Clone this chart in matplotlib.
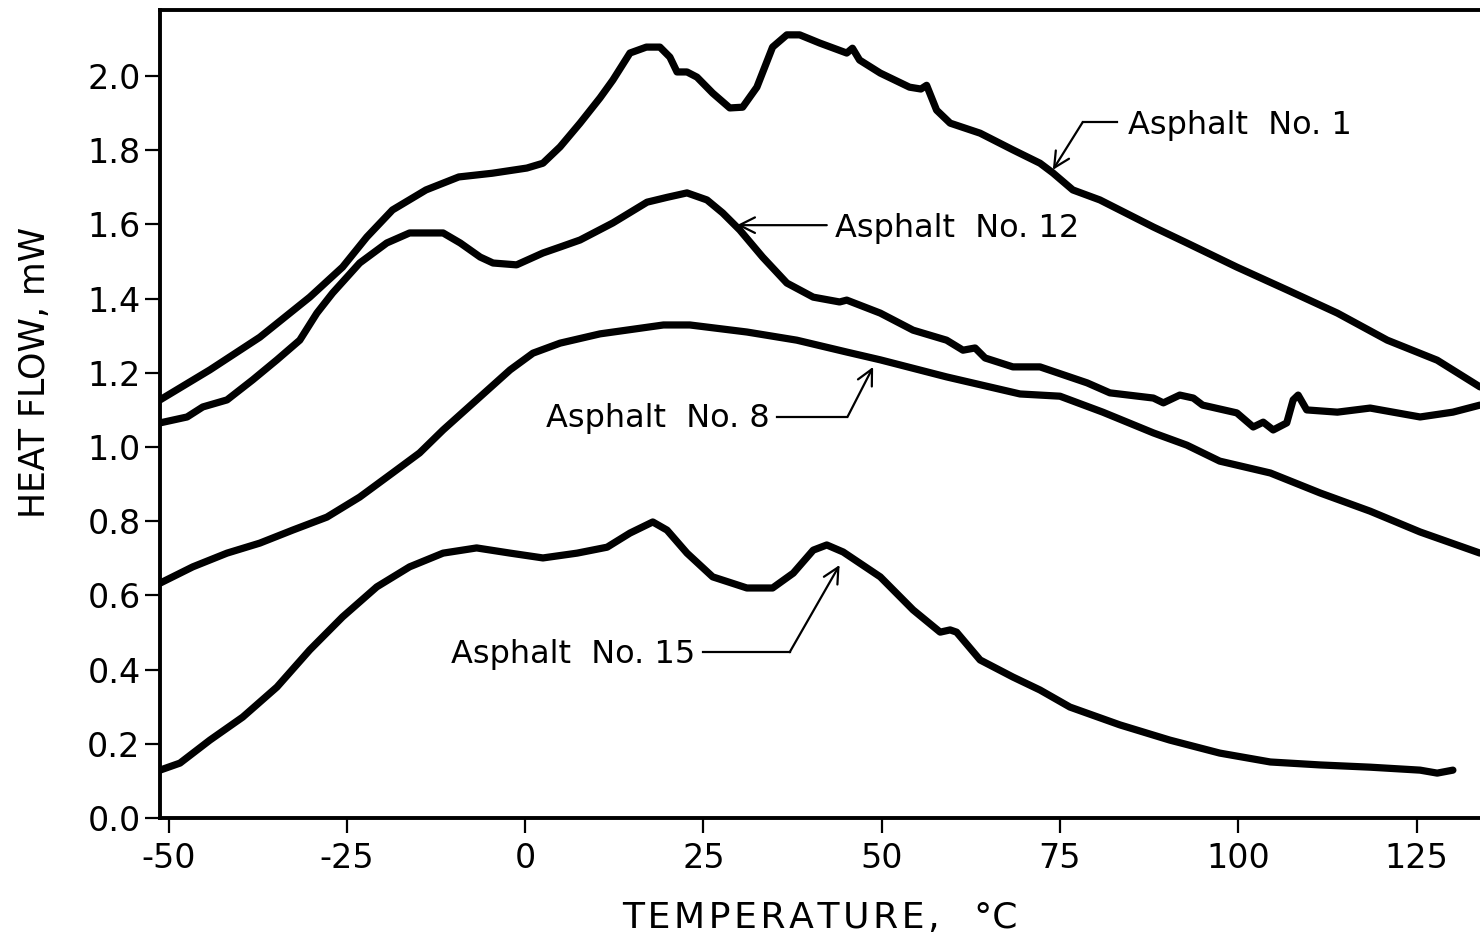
import numpy as np
import matplotlib
matplotlib.use("Agg")
import matplotlib.pyplot as plt

# DSC heat flow traces
temp_1 = [-51.2, -44.2, -37.2, -30.2, -25.6, -22.2, -18.6, -13.9, -9.3, -4.6, 0.25, 2.5, 4.9, 7.7,
          10.5, 12.3, 14.7, 17.0, 18.9, 20.3, 21.3, 22.7, 24.1, 26.3, 28.7, 30.5, 32.5, 34.7, 36.7,
          38.5, 41.3, 45.1, 45.9, 46.9, 49.8, 53.9, 55.5, 56.3, 57.7, 59.6, 63.8, 68.4, 72.2, 74.0,
          76.8, 80.6, 88.1, 92.8, 99.8, 106.9, 113.9, 120.9, 127.9, 133.9]
flow_1 = [1.127, 1.208, 1.296, 1.404, 1.485, 1.566, 1.639, 1.693, 1.728, 1.738, 1.752, 1.765, 1.809, 1.873,
          1.941, 1.989, 2.062, 2.078, 2.078, 2.051, 2.011, 2.011, 1.997, 1.954, 1.914, 1.916, 1.970, 2.078, 2.111,
          2.111, 2.089, 2.062, 2.075, 2.043, 2.008, 1.970, 1.965, 1.975, 1.908, 1.873, 1.846, 1.801, 1.765, 1.739,
          1.693, 1.666, 1.593, 1.550, 1.485, 1.423, 1.361, 1.288, 1.234, 1.162]

temp_12 = [-51.2, -47.4, -45.2, -41.8, -38.2, -34.8, -31.6, -29.2, -27.0, -23.2, -19.4, -16.2, -11.5, -9.1,
           -6.3, -4.5, -1.2, 2.5, 4.9, 7.7, 12.3, 17.1, 19.9, 22.7, 25.5, 27.7, 30.1, 33.3, 36.7, 40.4,
           44.1, 45.1, 49.8, 54.4, 59.1, 61.4, 63.1, 64.5, 68.4, 72.2, 78.8, 82.0, 88.1, 89.5, 91.8, 93.7,
           95.0, 99.8, 102.1, 103.5, 104.9, 106.8, 107.7, 108.4, 109.6, 113.9, 118.5, 121.7, 125.5, 130.1, 133.9]
flow_12 = [1.065, 1.081, 1.108, 1.127, 1.181, 1.235, 1.288, 1.361, 1.415, 1.496, 1.550, 1.577, 1.577, 1.550,
           1.512, 1.496, 1.491, 1.523, 1.539, 1.558, 1.604, 1.660, 1.673, 1.685, 1.666, 1.631, 1.585, 1.512, 1.442, 1.404,
           1.391, 1.396, 1.361, 1.315, 1.288, 1.261, 1.267, 1.240, 1.216, 1.216, 1.173, 1.146, 1.132, 1.119, 1.140, 1.132,
           1.113, 1.092, 1.054, 1.067, 1.046, 1.065, 1.127, 1.140, 1.100, 1.094, 1.105, 1.094, 1.081, 1.094, 1.113]

temp_8 = [-51.2, -46.6, -41.8, -37.2, -32.6, -27.8, -23.2, -18.6, -14.8, -11.5, -6.8, -2.1, 1.1, 4.9,
          10.5, 19.4, 23.1, 31.1, 38.1, 45.1, 49.8, 59.1, 69.4, 75.0, 81.0, 88.1, 92.8, 97.4, 104.5,
          111.5, 118.5, 125.5, 133.9]
flow_8 = [0.633, 0.677, 0.714, 0.741, 0.776, 0.811, 0.865, 0.930, 0.984, 1.046, 1.127, 1.208, 1.253, 1.280,
          1.305, 1.329, 1.329, 1.310, 1.288, 1.256, 1.235, 1.189, 1.143, 1.137, 1.094, 1.038, 1.005, 0.962, 0.930,
          0.876, 0.827, 0.771, 0.714]

temp_15 = [-51.2, -48.4, -44.2, -39.6, -34.8, -30.2, -25.6, -20.8, -16.2, -11.5, -6.8, -2.1, 2.5, 7.3,
           11.5, 14.7, 17.9, 19.9, 22.7, 26.3, 31.1, 34.7, 37.6, 40.4, 42.3, 44.6, 49.8, 54.4, 58.2,
           59.6, 60.5, 63.8, 68.4, 72.2, 76.4, 83.4, 90.4, 97.4, 104.5, 111.5, 118.5, 125.5, 127.9, 130.1]
flow_15 = [0.129, 0.148, 0.210, 0.272, 0.353, 0.453, 0.542, 0.623, 0.677, 0.714, 0.728, 0.714, 0.701, 0.714,
           0.730, 0.768, 0.798, 0.776, 0.714, 0.650, 0.620, 0.620, 0.660, 0.722, 0.736, 0.717, 0.650, 0.561, 0.501,
           0.507, 0.501, 0.426, 0.380, 0.345, 0.299, 0.251, 0.210, 0.175, 0.151, 0.143, 0.137, 0.129, 0.121, 0.129]

x_ticks = [-50, -25, 0, 25, 50, 75, 100, 125]
y_ticks = [0.0, 0.2, 0.4, 0.6, 0.8, 1.0, 1.2, 1.4, 1.6, 1.8, 2.0]

plt.rcParams['font.family'] = 'DejaVu Sans'

fig = plt.figure(figsize=(14.8, 9.42), dpi=100)
ax = fig.add_axes([160 / 1480, 1 - 818 / 942, 1 - 160 / 1480, 808 / 942])

for t, f in [(temp_1, flow_1), (temp_12, flow_12), (temp_8, flow_8), (temp_15, flow_15)]:
    ax.plot(t, f, color='black', lw=5.2, solid_joinstyle='round', solid_capstyle='round')

ax.set_xlim(-51.2, 133.9)
ax.set_ylim(0, 2.178)
ax.set_xticks(x_ticks)
ax.set_xticklabels([str(v) for v in x_ticks])
ax.set_yticks(y_ticks)
ax.set_yticklabels([f"{v:.1f}" for v in y_ticks])
ax.tick_params(axis='both', direction='out', length=11, width=1.6, labelsize=24, pad=6, colors='black')
ax.tick_params(axis='y', pad=3)

for side in ['left', 'bottom', 'top']:
    ax.spines[side].set_linewidth(2.8)
ax.spines['right'].set_visible(False)

# letter-spaced axis titles like the original lettering
xlab = '\u200a'.join('TEMPERATURE,') + '   °C'
ax.set_xlabel(xlab, fontsize=26)
ax.xaxis.set_label_coords(0.5, -0.103)
ax.set_ylabel('HEAT FLOW, mW', fontsize=25)
ax.yaxis.set_label_coords(-0.082, 0.552)

arrow = dict(arrowstyle='->', lw=1.6, color='black', mutation_scale=28, shrinkA=0, shrinkB=0)

# Asphalt No. 1
ax.plot([78.2, 83.0], [1.876, 1.876], color='black', lw=1.6)
ax.annotate('', xy=(74.0, 1.747), xytext=(78.2, 1.876), arrowprops=arrow)
ax.text(84.5, 1.868, 'Asphalt  No. 1', fontsize=23, va='center', ha='left')

# Asphalt No. 12
ax.annotate('', xy=(29.7, 1.598), xytext=(42.3, 1.598), arrowprops=arrow)
ax.text(43.4, 1.588, 'Asphalt  No. 12', fontsize=23, va='center', ha='left')

# Asphalt No. 8
ax.plot([35.3, 45.2], [1.081, 1.081], color='black', lw=1.6)
ax.annotate('', xy=(48.8, 1.216), xytext=(45.2, 1.081), arrowprops=arrow)
ax.text(34.3, 1.078, 'Asphalt  No. 8', fontsize=23, va='center', ha='right')

# Asphalt No. 15
ax.plot([24.9, 37.1], [0.447, 0.447], color='black', lw=1.6)
ax.annotate('', xy=(44.1, 0.682), xytext=(37.1, 0.447), arrowprops=arrow)
ax.text(23.8, 0.44, 'Asphalt  No. 15', fontsize=23, va='center', ha='right')

fig.savefig('out.png', dpi=100)
